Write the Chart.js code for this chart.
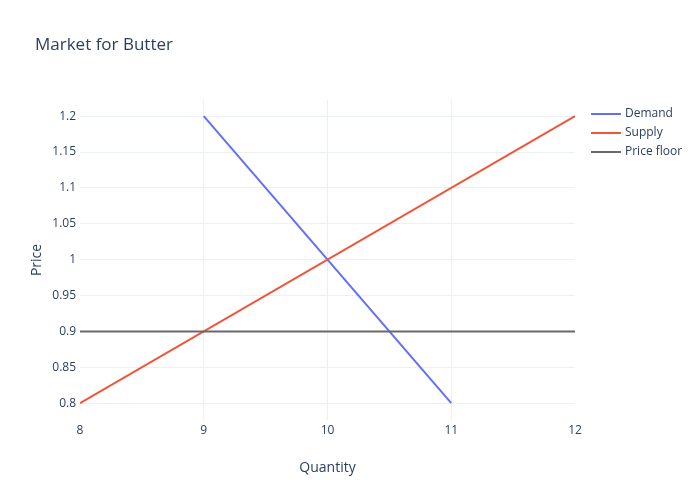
<!DOCTYPE html>
<html>
<head>
<meta charset="utf-8">
<script src="https://cdn.jsdelivr.net/npm/chart.js@4"></script>
<style>
  html, body { margin: 0; padding: 0; background: #fff; }
  #wrap { width: 700px; height: 500px; }
</style>
</head>
<body>
<div id="wrap"><canvas id="canvas" width="700" height="500"></canvas></div>
<script>
// data
const seriesNames = ['Demand', 'Supply', 'Price floor'];
const seriesColors = ['#636efa', '#EF553B', '#696969'];
const demandX = [9, 11];
const demandY = [1.2, 0.8];
const supplyX = [8, 12];
const supplyY = [0.8, 1.2];
const floorX = [8, 12];
const floorY = [0.9, 0.9];
const xTicks = [8, 9, 10, 11, 12];
const yTicks = [0.8, 0.85, 0.9, 0.95, 1, 1.05, 1.1, 1.15, 1.2];

const textColor = '#2a3f5f';
const gridColor = '#ebf0f8';
const fontFamily = '"Open Sans", sans-serif';

function toPoints(xs, ys) {
    return xs.map(function (x, i) { return { x: x, y: ys[i] }; });
}

const allX = [demandX, supplyX, floorX];
const allY = [demandY, supplyY, floorY];

const datasets = seriesNames.map(function (name, i) {
    return {
        label: name,
        data: toPoints(allX[i], allY[i]),
        borderColor: seriesColors[i],
        backgroundColor: seriesColors[i],
        borderWidth: 2,
        pointRadius: 0,
        fill: false,
        tension: 0,
        order: seriesNames.length - i
    };
});

// title + legend drawn by hand, plotly style
const decorPlugin = {
    id: 'decor',
    afterDraw(chart) {
        const ctx = chart.ctx;
        ctx.save();
        ctx.fillStyle = textColor;
        ctx.font = '17px ' + fontFamily;
        ctx.textBaseline = 'middle';
        ctx.textAlign = 'left';
        ctx.fillText('Market for Butter', 35, 45);

        ctx.font = '12px ' + fontFamily;
        seriesNames.forEach(function (name, i) {
            const y = 114 + 19 * i;
            ctx.strokeStyle = seriesColors[i];
            ctx.lineWidth = 2;
            ctx.beginPath();
            ctx.moveTo(591, y);
            ctx.lineTo(621, y);
            ctx.stroke();
            ctx.fillStyle = textColor;
            ctx.fillText(name, 625, y);
        });
        ctx.restore();
    }
};

const ctx = document.getElementById('canvas').getContext('2d');
const myChart = new Chart(ctx, {
    type: 'line',
    data: { datasets: datasets },
    options: {
        responsive: false,
        animation: false,
        layout: { padding: { top: 100, right: 125, left: 0, bottom: 0 } },
        plugins: {
            legend: { display: false },
            title: { display: false },
            tooltip: { enabled: false }
        },
        scales: {
            x: {
                type: 'linear',
                min: 8,
                max: 12,
                afterBuildTicks: function (scale) {
                    scale.ticks = xTicks.map(function (v) { return { value: v }; });
                },
                afterFit: function (scale) { scale.height = 80; },
                grid: {
                    // no grid line on the plot edges
                    color: function (c) {
                        const v = c.tick ? c.tick.value : null;
                        return (v === 8 || v === 12) ? 'rgba(0,0,0,0)' : gridColor;
                    },
                    drawTicks: false
                },
                border: { display: false },
                ticks: {
                    color: textColor,
                    font: { family: fontFamily, size: 12 },
                    padding: 3,
                    maxRotation: 0
                },
                title: {
                    display: true,
                    text: 'Quantity',
                    color: textColor,
                    font: { family: fontFamily, size: 14 },
                    padding: { top: 0, bottom: 24 }
                }
            },
            y: {
                type: 'linear',
                min: 0.7765,
                max: 1.2225,
                afterBuildTicks: function (scale) {
                    scale.ticks = yTicks.map(function (v) { return { value: v }; });
                },
                afterFit: function (scale) { scale.width = 80; },
                grid: { color: gridColor, drawTicks: false },
                border: { display: false },
                ticks: {
                    color: textColor,
                    font: { family: fontFamily, size: 12 },
                    padding: 4,
                    callback: function (value) { return String(+value.toFixed(2)); }
                },
                title: {
                    display: true,
                    text: 'Price',
                    color: textColor,
                    font: { family: fontFamily, size: 14 },
                    padding: { top: 29, bottom: 0 }
                }
            }
        }
    },
    plugins: [decorPlugin]
});
</script>
</body>
</html>
